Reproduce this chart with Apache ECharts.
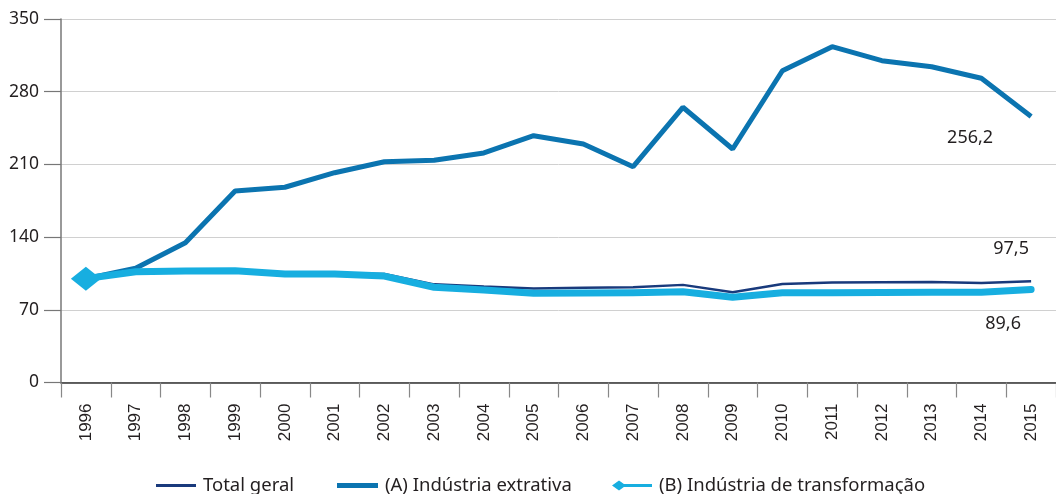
<!DOCTYPE html>
<html>
<head>
<meta charset="utf-8">
<script src="https://cdn.jsdelivr.net/npm/echarts@6/dist/echarts.min.js"></script>
<style>
  html, body { margin: 0; padding: 0; background: #fff; }
  #main { width: 1056px; height: 494px; }
</style>
</head>
<body>
<div id="main"></div>
<script>
var anos = ['1996', '1997', '1998', '1999', '2000', '2001', '2002', '2003', '2004', '2005',
  '2006', '2007', '2008', '2009', '2010', '2011', '2012', '2013', '2014', '2015'];
var totalGeral = [100, 106.5, 107.2, 107.6, 105, 105, 104.5, 94.5, 92.5, 90.6,
  91.2, 91.6, 94, 86.8, 94.8, 96.2, 96.5, 96.8, 95.8, 97.5];
var extrativa = [100, 110, 134.6, 184.4, 188, 202, 212.6, 214, 221, 237.6,
  229.6, 207.8, 265, 224.8, 300.2, 323.4, 309.9, 304, 292.9, 256.2];
var transformacao = [100, 106.7, 107.4, 107.7, 104.5, 104.5, 102.5, 91.7, 89, 85.9,
  86.2, 86.4, 87.4, 82, 86.5, 86.5, 86.6, 87, 87, 89.6];
var yTicks = [0, 70, 140, 210, 280, 350];

var nomes = ['Total geral', '(A) Indústria extrativa', '(B) Indústria de transformação'];
var cores = ['#193a7c', '#0b74b0', '#17aee0'];
var fonte = '"Noto Sans", sans-serif';

// rótulo do último valor, com vírgula decimal
function rotuloFinal(off) {
  return {
    show: true,
    distance: 0,
    align: 'center',
    verticalAlign: 'middle',
    offset: off,
    color: '#231f20',
    fontFamily: fonte,
    fontSize: 18,
    formatter: function (p) {
      return p.value.toFixed(1).replace('.', ',');
    }
  };
}

function legenda(i, left, w, h, icon) {
  return {
    data: [{ name: nomes[i], icon: icon }],
    left: left,
    top: 476,
    padding: 0,
    itemWidth: w,
    itemHeight: h,
    itemGap: 0,
    selectedMode: false,
    textStyle: { fontFamily: fonte, fontSize: 18.5, color: '#231f20', padding: [0, 0, 0, 2] }
  };
}

var myChart = echarts.init(document.getElementById('main'));
myChart.setOption({
  animation: false,
  grid: { left: 61, top: 19, width: 1000, bottom: 111.5, containLabel: false },
  legend: [
    legenda(0, 156, 40, 3, 'rect'),
    legenda(1, 337, 41, 5, 'rect'),
    legenda(2, 612, 40, 12, 'path://M0,6 L7,1 L14,6 L7,11 Z M12,4.5 L40,4.5 L40,7.5 L12,7.5 Z')
  ],
  xAxis: {
    type: 'category',
    data: anos,
    boundaryGap: true,
    axisLine: { lineStyle: { color: '#333', width: 1.5 } },
    axisTick: { show: true, length: 15, lineStyle: { color: '#888', width: 1.2 } },
    axisLabel: {
      rotate: 90,
      margin: 21,
      color: '#231f20',
      fontFamily: '"Liberation Sans", Arial, sans-serif',
      fontSize: 17,
      interval: 0
    },
    splitLine: { show: false }
  },
  yAxis: {
    type: 'value',
    min: yTicks[0],
    max: yTicks[yTicks.length - 1],
    interval: 70,
    axisLine: { show: true, lineStyle: { color: '#777', width: 1.5 } },
    axisTick: { show: true, length: 17, lineStyle: { color: '#777', width: 1.2 } },
    axisLabel: { margin: 22, color: '#231f20', fontFamily: fonte, fontSize: 17.5 },
    splitLine: { show: true, lineStyle: { color: '#d0d0d0', width: 1 } }
  },
  series: [
    {
      name: nomes[0],
      type: 'line',
      data: totalGeral,
      symbol: 'none',
      color: cores[0],
      lineStyle: { width: 2.5, color: cores[0] },
      endLabel: rotuloFinal([-20, -32.5]),
      z: 2
    },
    {
      name: nomes[1],
      type: 'line',
      data: extrativa,
      symbol: 'none',
      color: cores[1],
      lineStyle: { width: 5, color: cores[1] },
      endLabel: rotuloFinal([-61, 21.5]),
      z: 3
    },
    {
      name: nomes[2],
      type: 'line',
      data: transformacao.map(function (v, i) {
        if (i === 0) return { value: v, symbol: 'diamond', symbolSize: [30, 24] };
        return v;
      }),
      symbol: 'none',
      showSymbol: true,
      color: cores[2],
      itemStyle: { color: cores[2] },
      lineStyle: { width: 7, color: cores[2], cap: 'round', join: 'round' },
      endLabel: rotuloFinal([-28, 34.5]),
      z: 4
    }
  ]
});
</script>
</body>
</html>
